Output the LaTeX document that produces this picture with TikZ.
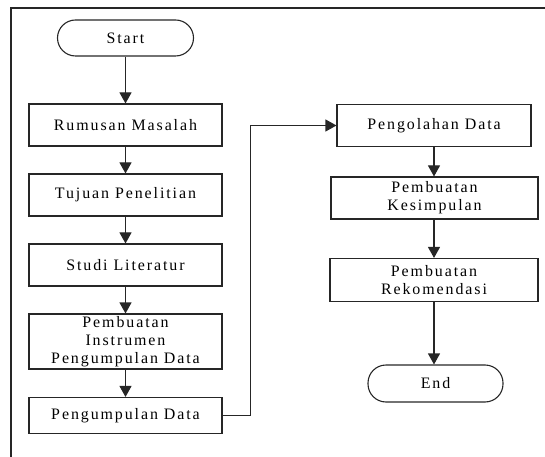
\documentclass[tikz,border=0pt]{standalone}
\usepackage{fontspec}
\setmainfont[LetterSpace=12]{Liberation Serif}
\usetikzlibrary{arrows.meta}
\begin{document}
\begin{tikzpicture}[x=1bp,y=-1bp,
  box/.style={draw=black!85,line width=1.1bp,inner sep=0pt,align=center,
    font=\fontsize{16}{18.3}\selectfont},
  term/.style={box,rounded corners=18bp},
  conn/.style={draw=black!85,line width=1.1bp,-{Triangle[length=11bp,width=12bp]}}]
\useasboundingbox (0,0) rectangle (545,457);
\draw[line width=1.2bp,black!85] (545,8) -- (11,8) -- (11,457);
\node[term,minimum width=136bp,minimum height=36bp] (start) at (125.5,38) {Start};
\node[box,minimum width=193bp,minimum height=42bp] (rm) at (125.5,125) {Rumusan Masalah};
\node[box,minimum width=193bp,minimum height=42bp] (tp) at (125.5,195) {Tujuan Penelitian};
\node[box,minimum width=193bp,minimum height=42bp] (sl) at (125.5,265) {Studi Literatur};
\node[box,minimum width=193bp,minimum height=55bp] (pi) at (125.5,341.5) {Pembuatan\\Instrumen\\Pengumpulan Data};
\node[box,minimum width=193bp,minimum height=36bp] (pd) at (125.5,415.5) {Pengumpulan Data};
\node[box,minimum width=194bp,minimum height=42bp] (po) at (434,125.5) {Pengolahan Data};
\node[box,minimum width=207bp,minimum height=42bp] (pk) at (434.5,198) {Pembuatan\\Kesimpulan};
\node[box,minimum width=208bp,minimum height=43bp] (pr) at (434,280) {Pembuatan\\Rekomendasi};
\node[term,minimum width=135bp,minimum height=37bp] (end) at (435.5,383.5) {End};
\coordinate (j1) at (250.7,415.5);
\coordinate (j2) at (250.7,125.5);
\draw[conn] (start) -- (rm);
\draw[conn] (rm) -- (tp);
\draw[conn] (tp) -- (sl);
\draw[conn] (sl) -- (pi);
\draw[conn] (pi) -- (pd);
\draw[conn] (pd.east) -- (j1) -- (j2) -- (po.west);
\draw[conn] (po.south) -- (po.south |- pk.north);
\draw[conn] (pk.south -| po.south) -- (po.south |- pr.north);
\draw[conn] (pr.south -| po.south) -- (po.south |- end.north);
\end{tikzpicture}
\end{document}
